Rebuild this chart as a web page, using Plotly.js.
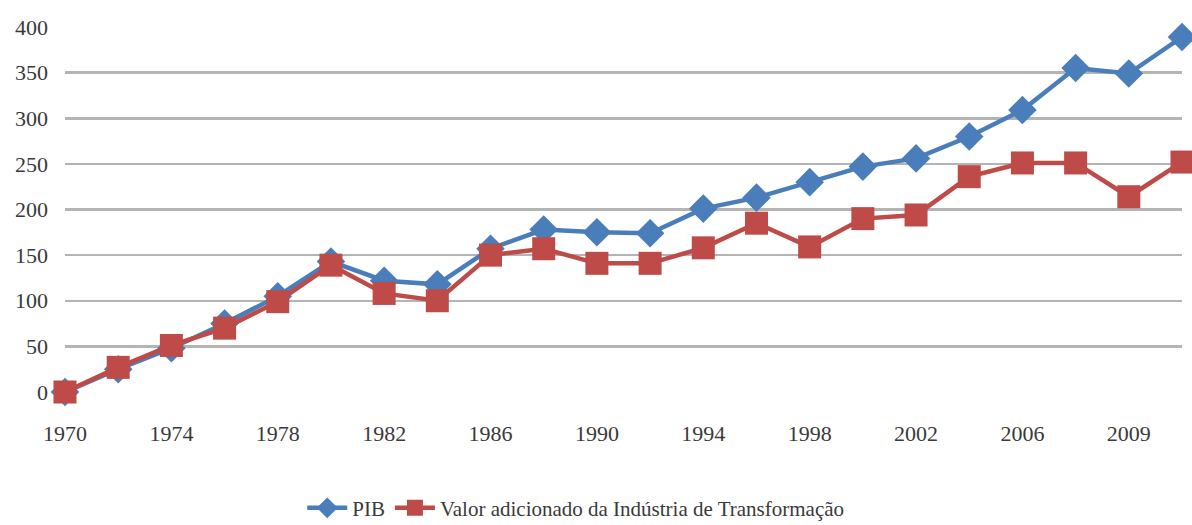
<!DOCTYPE html>
<html>
<head>
<meta charset="utf-8">
<script src="https://cdn.plot.ly/plotly-3.0.1.min.js"></script>
<style>html,body{margin:0;padding:0;background:#fff;}#chart{width:1192px;height:525px;}</style>
</head>
<body>
<div id="chart"></div>
<script>
var years = ["1970","1972","1974","1976","1978","1980","1982","1984","1986","1988","1990","1992","1994","1996","1998","2000","2002","2004","2006","2008","2009","2010"];
var pib = [0, 25, 48, 75, 105, 143, 122, 118, 157, 178, 175, 174, 201, 213, 230, 247, 256, 280, 309, 355, 349, 389];
var industria = [0, 27, 51, 70, 99, 139, 108, 100, 150, 157, 141, 141, 158, 185, 159, 190, 194, 236, 251, 251, 214, 252];
var tickLabels = ["1970","1974","1978","1982","1986","1990","1994","1998","2002","2006","2009"];
var seriesNames = ["PIB", "Valor adicionado da Indústria de Transformação"];

var font = {family: "Liberation Serif, serif", size: 22, color: "#3a3a3a"};

var traces = [
  {x: years, y: pib, name: seriesNames[0], type: "scatter", mode: "lines+markers",
   line: {color: "#4A7EBB", width: 4.5},
   marker: {symbol: "diamond", size: 22, color: "#4A7EBB"}, cliponaxis: false},
  {x: years, y: industria, name: seriesNames[1], type: "scatter", mode: "lines+markers",
   line: {color: "#BE4B48", width: 4.5},
   marker: {symbol: "square", size: 23, color: "#BE4B48"}, cliponaxis: false}
];

var layout = {
  width: 1192, height: 525,
  margin: {l: 65, r: 10, t: 27, b: 133},
  paper_bgcolor: "#fff", plot_bgcolor: "#fff",
  font: font,
  showlegend: true,
  legend: {orientation: "h", xref: "container", yref: "container",
           x: 0.483, xanchor: "center", y: 0.032, yanchor: "middle",
           font: {family: "Liberation Serif, serif", size: 21, color: "#3a3a3a"}, itemwidth: 40},
  xaxis: {type: "category", range: [0, years.length - 1], tickmode: "array",
          tickvals: tickLabels, ticktext: tickLabels, showgrid: false, zeroline: false,
          showline: false, ticks: "", tickfont: font, ticklabelstandoff: 26, automargin: false},
  yaxis: {range: [0, 400], tickvals: [0,50,100,150,200,250,300,350,400],
          showgrid: true, gridcolor: "#b4b4b4", gridwidth: 2.5, zeroline: false,
          showline: false, ticks: "", tickfont: font, ticklabelstandoff: 16, automargin: false}
};

Plotly.newPlot("chart", traces, layout, {displayModeBar: false, staticPlot: true});
</script>
</body>
</html>
